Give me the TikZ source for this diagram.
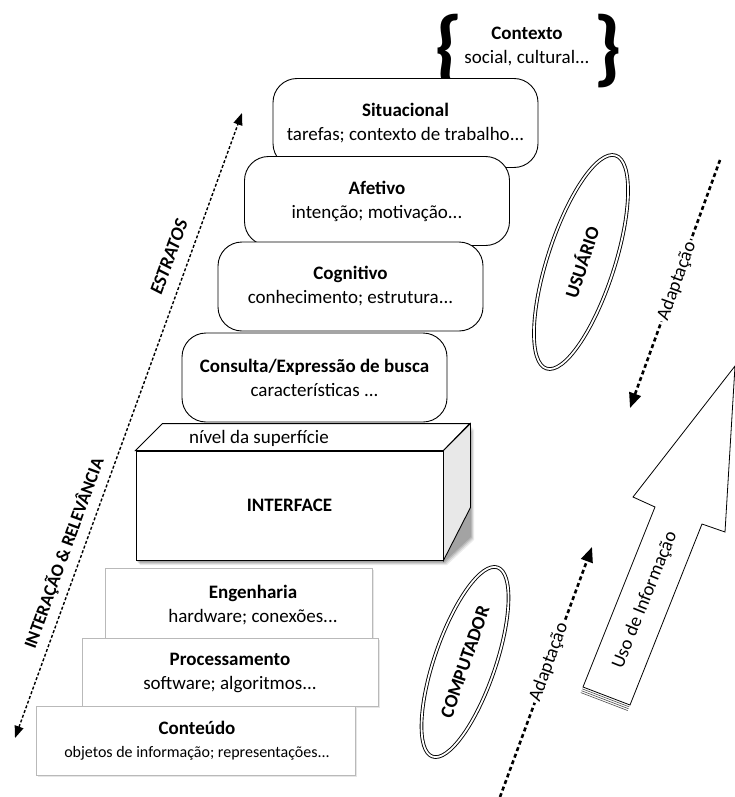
\documentclass[tikz,border=0pt]{standalone}
\usepackage{fontspec}
\setmainfont{Carlito}
\usetikzlibrary{arrows.meta,shapes.geometric,shadows,calc}
\newcommand\fzA{\fontsize{19}{24}\selectfont}
\newcommand\fzB{\fontsize{19}{24}\selectfont}
\newcommand\fzC{\fontsize{16}{20}\selectfont}
\begin{document}
\begin{tikzpicture}[x=1pt,y=-1pt,
 rbox/.style={draw, fill=white, rounded corners=24pt, line width=0.9pt, minimum width=265pt, minimum height=89pt, inner sep=0pt, align=center, font=\fzA},
 sbox/.style={draw=gray!55, fill=white, line width=0.8pt, inner sep=0pt, drop shadow={shadow xshift=1.5pt, shadow yshift=-1.5pt, opacity=0.2}},
 txt/.style={inner sep=0pt, align=center, font=\fzA},
 ell/.style={ellipse, draw, double, double distance=1.8pt, line width=0.9pt, inner sep=0pt, font=\fzA\bfseries},
 dotline/.style={line width=1.4pt, dash pattern=on 3pt off 2pt, {Triangle[length=12pt,width=9pt]}-{Triangle[length=12pt,width=9pt]}},
 adapt/.style={line width=2.6pt, dash pattern=on 4pt off 3pt, -{Triangle[length=15pt,width=12pt]}},
 brc/.style={inner sep=0pt, font=\fontsize{84}{84}\selectfont\bfseries},
]
\useasboundingbox (0,0) rectangle (735,797);

% context
\node[brc] (lbr) at (449,51) {\{};
\node[brc] (rbr) at (608,51) {\}};
\node[txt] (ctx) at (527,46) {\textbf{Contexto}\\social, cultural...};

% user strata
\node[rbox] (sit) at (405.5,123) {\textbf{Situacional}\\tarefas; contexto de trabalho...};
\node[rbox] (afe) at (377,201) {\textbf{Afetivo}\\intenção; motivação...};
\node[rbox] (cog) at (350.5,286.5) {\textbf{Cognitivo}\\conhecimento; estrutura...};
\node[rbox] (con) at (314.5,377.5) {\textbf{Consulta/Expressão de busca}\\características ...};

% interface 3D box
\foreach \d/\o in {2/0.12,3/0.12,4/0.10,5/0.08}{
  \fill[black, opacity=\o, shift={(\d-1,\d)}] (136,451) -- (443,451) -- (470,424) -- (470,535) -- (443,560) -- (136,560) -- cycle;
}
\fill[white] (136,451) -- (163,424) -- (470,424) -- (443,451) -- cycle;
\node[draw, fill=white, line width=0.9pt, minimum width=307pt, minimum height=109pt, inner sep=0pt, font=\fzA\bfseries] (ifc) at (289.5,505.5) {INTERFACE};
\draw[line width=0.9pt, fill=white] (ifc.north west) -- ++(27,-27) -- ++(307,0) -- (ifc.north east) -- cycle;
\draw[line width=0.9pt, fill=gray!18] (ifc.north east) -- ++(27,-27) -- ++(0,84) -- (ifc.south east) -- cycle;
\node[txt, font=\fzB] (niv) at (259,438) {nível da superfície};

% computer strata
\node[sbox, minimum width=267pt, minimum height=72pt] (eng) at (238.5,604) {};
\node[txt] (engt) at (253,605.5) {\textbf{Engenharia}\\hardware; conexões...};
\node[sbox, minimum width=296pt, minimum height=68pt] (pro) at (230,672) {};
\node[txt] (prot) at (230,673) {\textbf{Processamento}\\software; algoritmos...};
\node[sbox, minimum width=319pt, minimum height=69pt] (ctd) at (195.5,740.5) {};
\node[txt] (ctdt) at (197,741) {\textbf{Conteúdo}\\[-1pt]{\fzC objetos de informação; representações...}};

% ellipses
\node[ell, minimum width=224pt, minimum height=67pt, rotate=72] (usr) at (581,262) {USUÁRIO};
\node[ell, minimum width=200pt, minimum height=61pt, rotate=71] (cmp) at (465,662) {COMPUTADOR};

% left double arrow
\coordinate (ir1) at (15,738);
\coordinate (ir2) at (242,113);
\draw[dotline] (ir1) -- (ir2);
\node[txt, rotate=70, font=\fontsize{19}{24}\selectfont\bfseries\itshape] (est) at (169,257) {ESTRATOS};
\node[txt, rotate=70, font=\fontsize{18}{24}\selectfont\bfseries] (int) at (64,553) {INTERAÇÃO \& RELEVÂNCIA};

% adaptation arrows
\coordinate (ua1) at (720,160);
\coordinate (ua2) at (630,408);
\draw[adapt] (ua1) -- (ua2);
\node[txt, fill=white, inner sep=2pt, rotate=70] (uat) at (677,281) {Adaptação};
\coordinate (la1) at (500,797);
\coordinate (la2) at (592,547);
\draw[adapt] (la1) -- (la2);
\node[txt, fill=white, inner sep=2pt, rotate=70] (lat) at (549,662) {Adaptação};

% big arrow
\draw[line width=0.8pt, fill=white] (583,687) -- (655,507) -- (633,497) -- (735,366) -- (725,532) -- (702,524) -- (630,705) -- cycle;
\foreach \k in {1,2,3}{
  \draw[line width=0.6pt, gray!60!black] ($(583,687)+(-0.37*\k*2,0.93*\k*2)$) -- ($(630,705)+(-0.37*\k*2,0.93*\k*2)$);
}
\node[txt, rotate=68] (uso) at (645,600) {Uso de Informação};
\end{tikzpicture}
\end{document}
